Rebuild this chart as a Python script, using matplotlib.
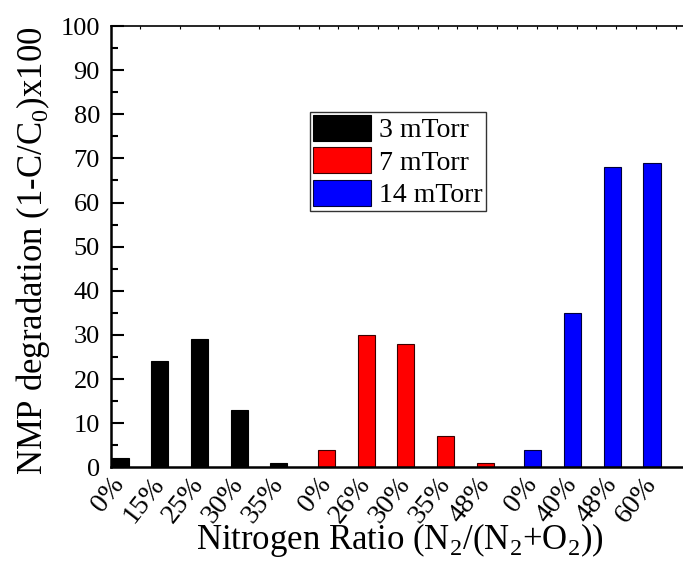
import matplotlib
matplotlib.use("Agg")
import matplotlib.pyplot as plt
from matplotlib.ticker import MultipleLocator
import numpy as np

plt.rcParams['font.family'] = ['Liberation Serif', 'DejaVu Serif']
plt.rcParams['mathtext.fontset'] = 'custom'
plt.rcParams['mathtext.rm'] = 'Liberation Serif'

series_names = ["3 mTorr", "7 mTorr", "14 mTorr"]
labels_3 = ["0%", "15%", "25%", "30%", "35%"]
labels_7 = ["0%", "26%", "30%", "35%", "48%"]
labels_14 = ["0%", "40%", "48%", "60%"]
values_3 = [2, 24, 29, 13, 1]
values_7 = [4, 30, 28, 7, 1]
values_14 = [4, 35, 68, 69]

colors = ["#000000", "#ff0000", "#0000ff"]
edges = ["#000000", "#3a0000", "#00003a"]

group_gap = 0.2
fig = plt.figure(figsize=(6.83, 5.63), dpi=100)
ax = fig.add_axes([0.1625, 0.170, 1.0 - 0.1625, 0.9538 - 0.170])

groups = [(labels_3, values_3), (labels_7, values_7), (labels_14, values_14)]
start = 0.0
all_pos, all_labels = [], []
for i, (labs, vals) in enumerate(groups):
    pos = start + np.arange(len(vals))
    ax.bar(pos, vals, width=0.43, color=colors[i], edgecolor=edges[i],
           linewidth=0.8, label=series_names[i])
    all_pos.extend(pos)
    all_labels.extend(labs)
    start = pos[-1] + 1 + group_gap

ax.set_xlim(-0.227, 14.18)
ax.set_ylim(0, 100)
ax.set_xticks(all_pos)
ax.set_xticklabels(all_labels, rotation=52, ha='right', va='center',
                   rotation_mode='anchor', fontsize=20)
ax.tick_params(axis='x', which='major', length=0, pad=9)
ax.xaxis.set_minor_locator(MultipleLocator(0.5))
ax.tick_params(axis='x', which='minor', bottom=False, top=True, length=2,
               direction='in', width=0.8)
ax.yaxis.set_major_locator(MultipleLocator(10))
ax.yaxis.set_minor_locator(MultipleLocator(5))
ax.tick_params(axis='y', which='major', direction='in', length=9, width=1.5,
               labelsize=19, pad=8)
ax.tick_params(axis='y', which='minor', direction='in', length=5, width=1.5)

ax.spines['right'].set_visible(False)
ax.spines['left'].set_linewidth(1.8)
ax.spines['bottom'].set_linewidth(1.8)
ax.spines['top'].set_linewidth(1.2)

ax.set_ylabel(r"NMP degradation (1-C/C$_0$)x100", fontsize=25)
ax.yaxis.set_label_coords(-(111 - 52) / (683 - 111), 0.49)
ax.set_xlabel(r"Nitrogen Ratio (N$_2$/(N$_2$+O$_2$))", fontsize=25)
ax.xaxis.set_label_coords((400 - 111) / (683 - 111), -0.122)

leg = ax.legend(loc='upper left', bbox_to_anchor=(0.348, 0.805), fontsize=20,
                handlelength=2.1, handleheight=1.05, labelspacing=0.15,
                borderpad=0.1, handletextpad=0.3, borderaxespad=0,
                fancybox=False, framealpha=1, edgecolor='#333333')
leg.get_frame().set_linewidth(1.0)

fig.savefig("out.png", dpi=100)
